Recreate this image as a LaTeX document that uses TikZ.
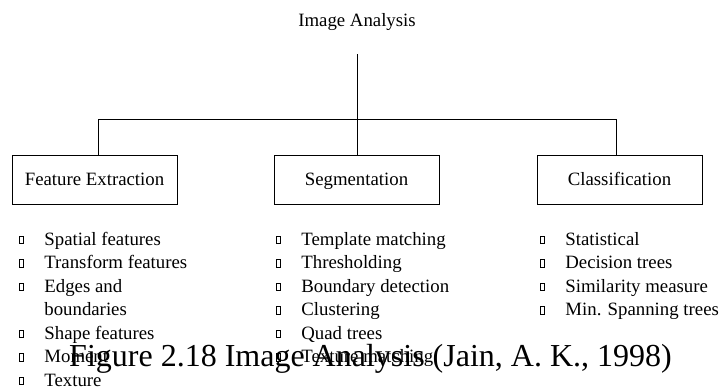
\documentclass[tikz,border=0pt]{standalone}
\usepackage{fontspec}
\setmainfont{Liberation Serif}
\begin{document}
\begin{tikzpicture}[x=1pt,y=-1pt,
  line width=0.8pt,
  txt/.style={inner sep=0pt, font=\fontsize{18.8}{23}\selectfont},
  box/.style={draw, rectangle, minimum width=165pt, minimum height=49pt, inner sep=0pt,
    text height=13pt, text depth=1.5pt, font=\fontsize{18.8}{23}\selectfont},
  item/.style={txt, anchor=base west},
  tofu/.style={draw, line width=0.6pt, rectangle, minimum width=4pt, minimum height=7.6pt, inner sep=0pt, anchor=south west}
]
\useasboundingbox (0,0) rectangle (719,389);

% root label and the tree of connectors
\node[txt, anchor=base] (title) at (357,26) {Image Analysis};
\node[box] (fe)  at (94.5,179.75) {Feature Extraction};
\node[box] (seg) at (356.5,179.75) {Segmentation};
\node[box] (cls) at (619.5,179.75) {Classification};

\coordinate (stem) at (357,54);
\coordinate (barL) at (98.5,119);
\coordinate (barR) at (616,119);
\draw (stem) -- (stem |- seg.north);
\draw (barL) -- (barR);
\draw (barL) -- (barL |- fe.north);
\draw (barR) -- (barR |- cls.north);

% item lists (bullets rendered as missing-glyph boxes)
\newcommand{\listitem}[4]{%
  \node[tofu] (#1b) at (#2-25.5,#3-1) {};
  \node[item] (#1) at (#2,#3) {#4};}

\listitem{fa}{44}{245}{Spatial features}
\listitem{fb}{44}{268.5}{Transform features}
\listitem{fc}{44}{292}{Edges and}
\node[item] (fc2) at (44,315.5) {boundaries};
\listitem{fd}{44}{339}{Shape features}
\listitem{fe1}{44}{362.5}{Moment}
\listitem{ff}{44}{386}{Texture}

\listitem{sa}{301}{245}{Template matching}
\listitem{sb}{301}{268.5}{Thresholding}
\listitem{sc}{301}{292}{Boundary detection}
\listitem{sd}{301}{315.5}{Clustering}
\listitem{se}{301}{339}{Quad trees}
\listitem{sf}{301}{362.5}{Texture matching}

\listitem{ca}{565}{245}{Statistical}
\listitem{cb}{565}{268.5}{Decision trees}
\listitem{cc}{565}{292}{Similarity measure}
\listitem{cd}{565}{315.5}{Min. Spanning trees}

% caption
\node[inner sep=0pt, anchor=base, font=\fontsize{32}{36}\selectfont] (cap) at (370.5,366) {Figure 2.18 Image Analysis (Jain, A. K., 1998)};
\end{tikzpicture}
\end{document}
